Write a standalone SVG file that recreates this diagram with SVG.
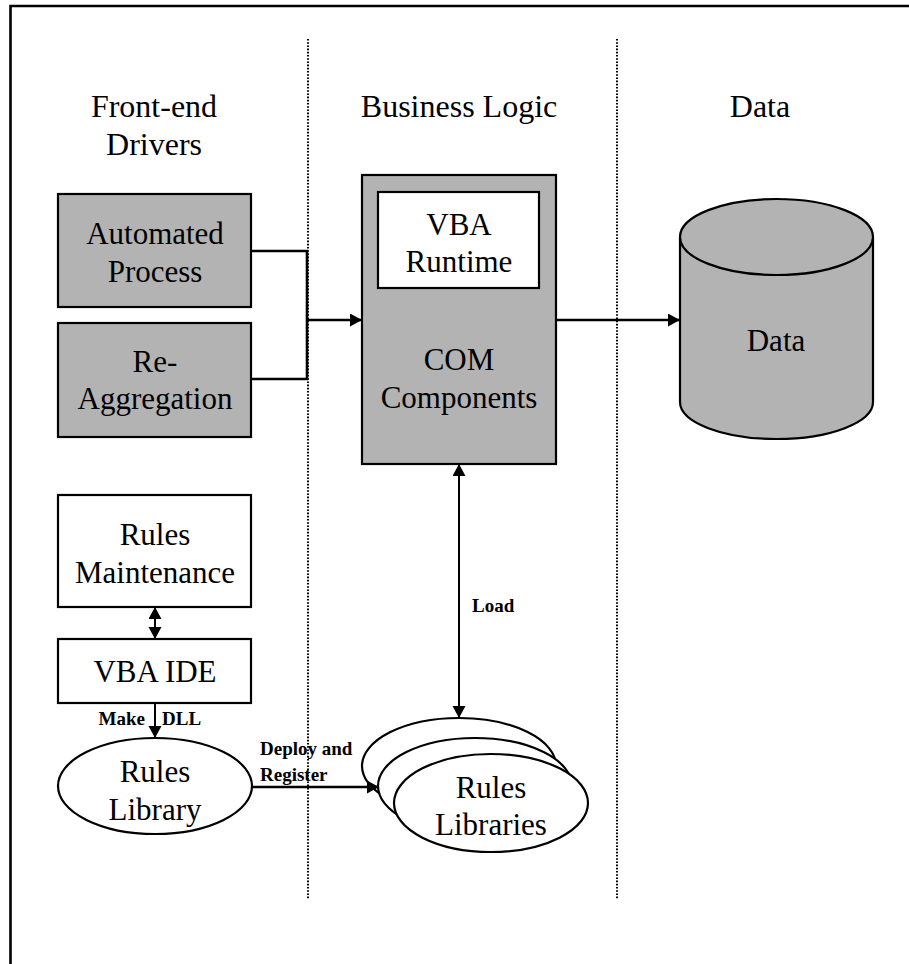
<svg xmlns="http://www.w3.org/2000/svg" width="909" height="964" viewBox="0 0 909 964">
<style>
text{font-family:"Liberation Serif","Times New Roman",serif;fill:#000}
.t{font-size:31px;text-anchor:middle}
.h{font-size:32px;text-anchor:middle}
.l{font-size:19px;font-weight:bold}
.box{stroke:#000;stroke-width:2.2}
.g{fill:#b3b3b3}
.w{fill:#fff}
.c{fill:none;stroke:#000;stroke-width:2.6}
.c2{fill:none;stroke:#000;stroke-width:2}
.dot{stroke:#000;stroke-width:2;stroke-dasharray:1.6 1.6}
</style>
<defs>
<marker id="ah" markerUnits="userSpaceOnUse" markerWidth="14" markerHeight="14" refX="12" refY="6.5" orient="auto-start-reverse">
<path d="M0,0 L12,6.5 L0,13 Z" fill="#000"/>
</marker>
</defs>
<rect width="909" height="964" fill="#fff"/>
<path d="M10.5,964 V6 H909" fill="none" stroke="#000" stroke-width="2.6"/>
<g id="lanes">
<line class="dot" x1="308" y1="39" x2="308" y2="899"/>
<line class="dot" x1="617" y1="39" x2="617" y2="899"/>
</g>
<g id="headers">
<text class="h" x="154" y="117">Front-end</text>
<text class="h" x="154" y="155">Drivers</text>
<text class="h" x="459" y="117">Business Logic</text>
<text class="h" x="760" y="117">Data</text>
</g>
<g id="automated">
<rect class="box g" x="58" y="194" width="193" height="113"/>
<text class="t" x="155" y="244">Automated</text>
<text class="t" x="155" y="282">Process</text>
</g>
<g id="reaggregation">
<rect class="box g" x="58" y="323" width="193" height="114"/>
<text class="t" x="155" y="372">Re-</text>
<text class="t" x="155" y="409">Aggregation</text>
</g>
<g id="com">
<rect class="box g" x="362" y="175" width="194" height="289"/>
<rect class="box w" x="378" y="192" width="161" height="96"/>
<text class="t" x="459" y="235">VBA</text>
<text class="t" x="459" y="272">Runtime</text>
<text class="t" x="459" y="370">COM</text>
<text class="t" x="459" y="408">Components</text>
</g>
<g id="data">
<path class="box g" d="M680,237 V402 A96.5,37 0 0 0 873,402 V237"/>
<ellipse class="box g" cx="776.5" cy="237" rx="96.5" ry="38"/>
<text class="t" x="776" y="351">Data</text>
</g>
<g id="rulesmaint">
<rect class="box w" x="58" y="495" width="193" height="112"/>
<text class="t" x="155" y="545">Rules</text>
<text class="t" x="155" y="583">Maintenance</text>
</g>
<g id="vbaide">
<rect class="box w" x="58" y="639" width="193" height="64"/>
<text class="t" x="155" y="682">VBA IDE</text>
</g>
<g id="ruleslibrary">
<ellipse class="box w" cx="155" cy="786" rx="97" ry="48"/>
<text class="t" x="155" y="782">Rules</text>
<text class="t" x="155" y="820">Library</text>
</g>
<g id="ruleslibraries">
<ellipse class="box w" cx="459" cy="766" rx="97" ry="48"/>
<ellipse class="box w" cx="475" cy="786" rx="97" ry="48"/>
<ellipse class="box w" cx="491" cy="803" rx="97" ry="49"/>
<text class="t" x="491" y="798">Rules</text>
<text class="t" x="491" y="835">Libraries</text>
</g>
<g id="connectors">
<path class="c" d="M251,251 H307 V379 H251"/>
<line class="c" x1="307" y1="320" x2="362" y2="320" marker-end="url(#ah)"/>
<line class="c" x1="556" y1="320" x2="680" y2="320" marker-end="url(#ah)"/>
<line class="c2" x1="459" y1="464" x2="459" y2="718" marker-start="url(#ah)" marker-end="url(#ah)"/>
<line class="c2" x1="155" y1="607" x2="155" y2="639" marker-start="url(#ah)" marker-end="url(#ah)"/>
<line class="c2" x1="155" y1="703" x2="155" y2="738" marker-end="url(#ah)"/>
<line class="c" x1="252" y1="787" x2="379" y2="787" marker-end="url(#ah)"/>
</g>
<g id="labels">
<text class="l" x="472" y="612">Load</text>
<text class="l" x="145" y="725" text-anchor="end">Make</text>
<text class="l" x="162" y="725">DLL</text>
<text class="l" x="260" y="755">Deploy and</text>
<text class="l" x="260" y="781">Register</text>
</g>
</svg>
